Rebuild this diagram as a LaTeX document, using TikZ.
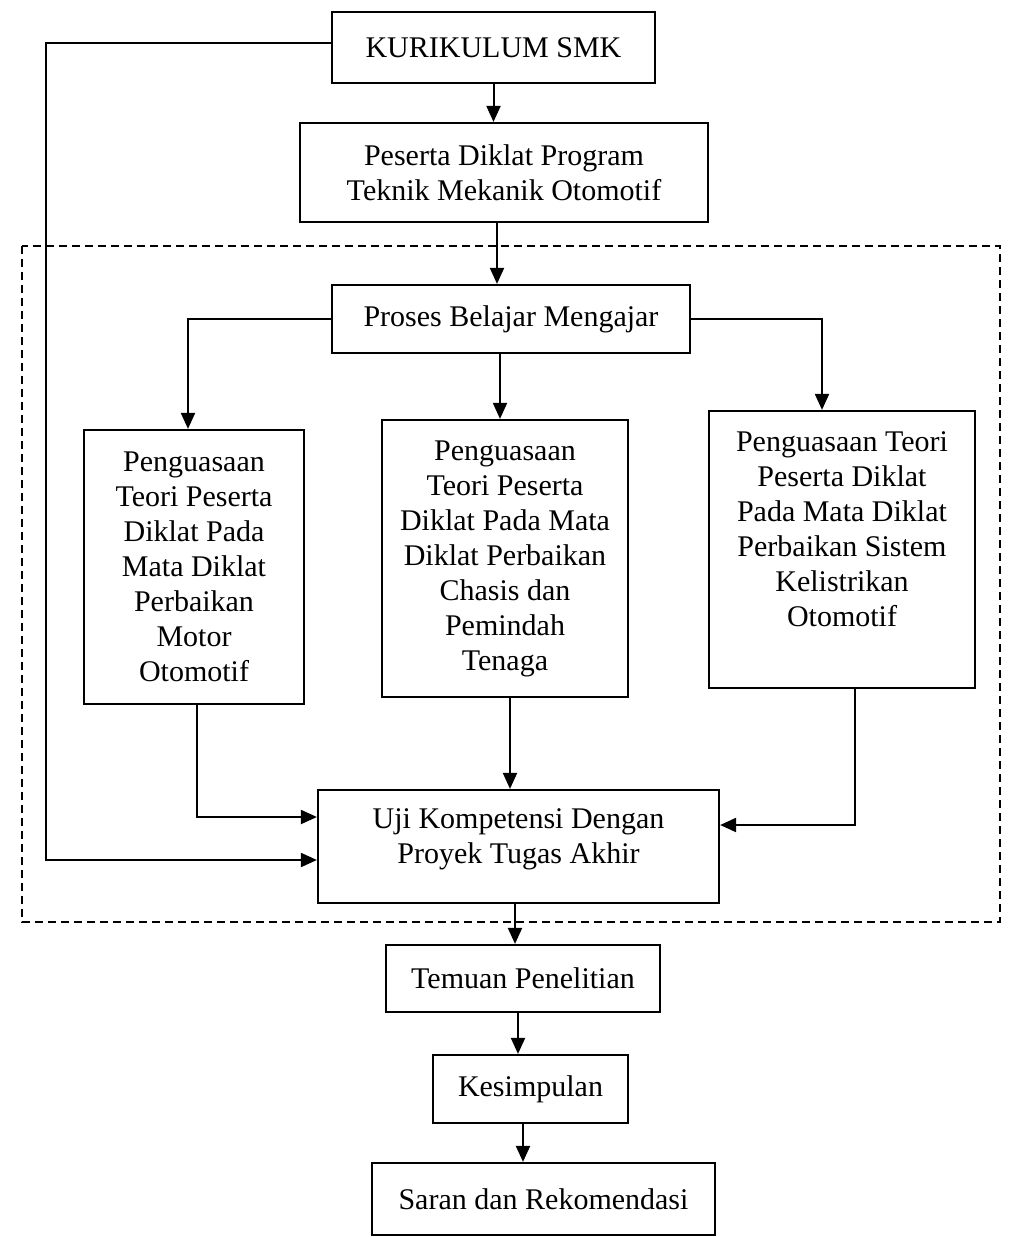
\documentclass[tikz,border=0pt]{standalone}
\usepackage{fontspec}
\setmainfont{Liberation Serif}
\usetikzlibrary{arrows.meta}
\begin{document}
\begin{tikzpicture}[x=1pt,y=-1pt,
  box/.style={draw, line width=2.2pt, inner sep=2pt, align=center,
    font=\fontsize{30}{35}\selectfont},
  arr/.style={line width=2pt, -{Triangle[length=16pt,width=14pt]}},
  dashbox/.style={line width=2pt, dash pattern=on 8pt off 5pt}]
\useasboundingbox[fill=white] (0,0) rectangle (1014,1237);

% dashed region
\draw[dashbox] (22,246) rectangle (1000,922);

% boxes
\node[box, minimum width=323pt, minimum height=71pt] (kur) at (493.5,47.5) {KURIKULUM SMK};
\node[box, minimum width=408pt, minimum height=99pt] (pes) at (504,172.5) {Peserta Diklat Program\\Teknik Mekanik Otomotif};
\node[box, minimum width=358pt, minimum height=68pt] (pro) at (511,319) {Proses Belajar Mengajar};
\node[box, minimum width=220pt, minimum height=274pt] (lbox) at (194,567) {Penguasaan\\Teori Peserta\\Diklat Pada\\Mata Diklat\\Perbaikan\\Motor\\Otomotif};
\node[box, minimum width=246pt, minimum height=277pt] (mbox) at (505,558.5) {Penguasaan\\Teori Peserta\\Diklat Pada Mata\\Diklat Perbaikan\\Chasis dan\\Pemindah\\Tenaga};
\node[box, minimum width=266pt, minimum height=277pt] (rbox) at (842,549.5) {Penguasaan Teori\\Peserta Diklat\\Pada Mata Diklat\\Perbaikan Sistem\\Kelistrikan\\Otomotif\\[5pt]\mbox{}};
\node[box, minimum width=401pt, minimum height=113pt] (uji) at (518.5,846.5) {Uji Kompetensi Dengan\\Proyek Tugas Akhir\\[-14pt]\mbox{}};
\node[box, minimum width=274pt, minimum height=67pt] (tem) at (523,978.5) {Temuan Penelitian};
\node[box, minimum width=195pt, minimum height=68pt] (kes) at (530.5,1089) {Kesimpulan};
\node[box, minimum width=343pt, minimum height=72pt] (sar) at (543.5,1199) {Saran dan Rekomendasi};

% loop coordinates
\coordinate (lt) at (46,42.5);
\coordinate (lb) at (46,860);

% connectors
\draw[arr] (kur.south) -- (kur.south |- pes.north);
\draw[arr] ([xshift=-7pt]pes.south) -- ([xshift=-7pt]pes.south |- pro.north);
\draw[arr] ([xshift=-11pt]pro.south) -- ([xshift=-11pt]pro.south |- mbox.north);
\draw[arr] (pro.west) -| ([xshift=-6pt]lbox.north);
\draw[arr] (pro.east) -| ([xshift=-20pt]rbox.north);
\draw[arr] ([xshift=3pt]lbox.south) |- ([yshift=29.5pt]uji.west);
\draw[arr] ([xshift=5pt]mbox.south) -- ([xshift=5pt]mbox.south |- uji.north);
\draw[arr] ([xshift=13pt]rbox.south) |- ([yshift=21.5pt]uji.east);
\draw[arr] ([yshift=5pt]kur.west) -- (lt) -- (lb) -- (lb -| uji.west);
\draw[arr] ([xshift=-3.5pt]uji.south) -- ([xshift=-3.5pt]uji.south |- tem.north);
\draw[arr] ([xshift=-5pt]tem.south) -- ([xshift=-5pt]tem.south |- kes.north);
\draw[arr] ([xshift=-7.5pt]kes.south) -- ([xshift=-7.5pt]kes.south |- sar.north);
\end{tikzpicture}
\end{document}
